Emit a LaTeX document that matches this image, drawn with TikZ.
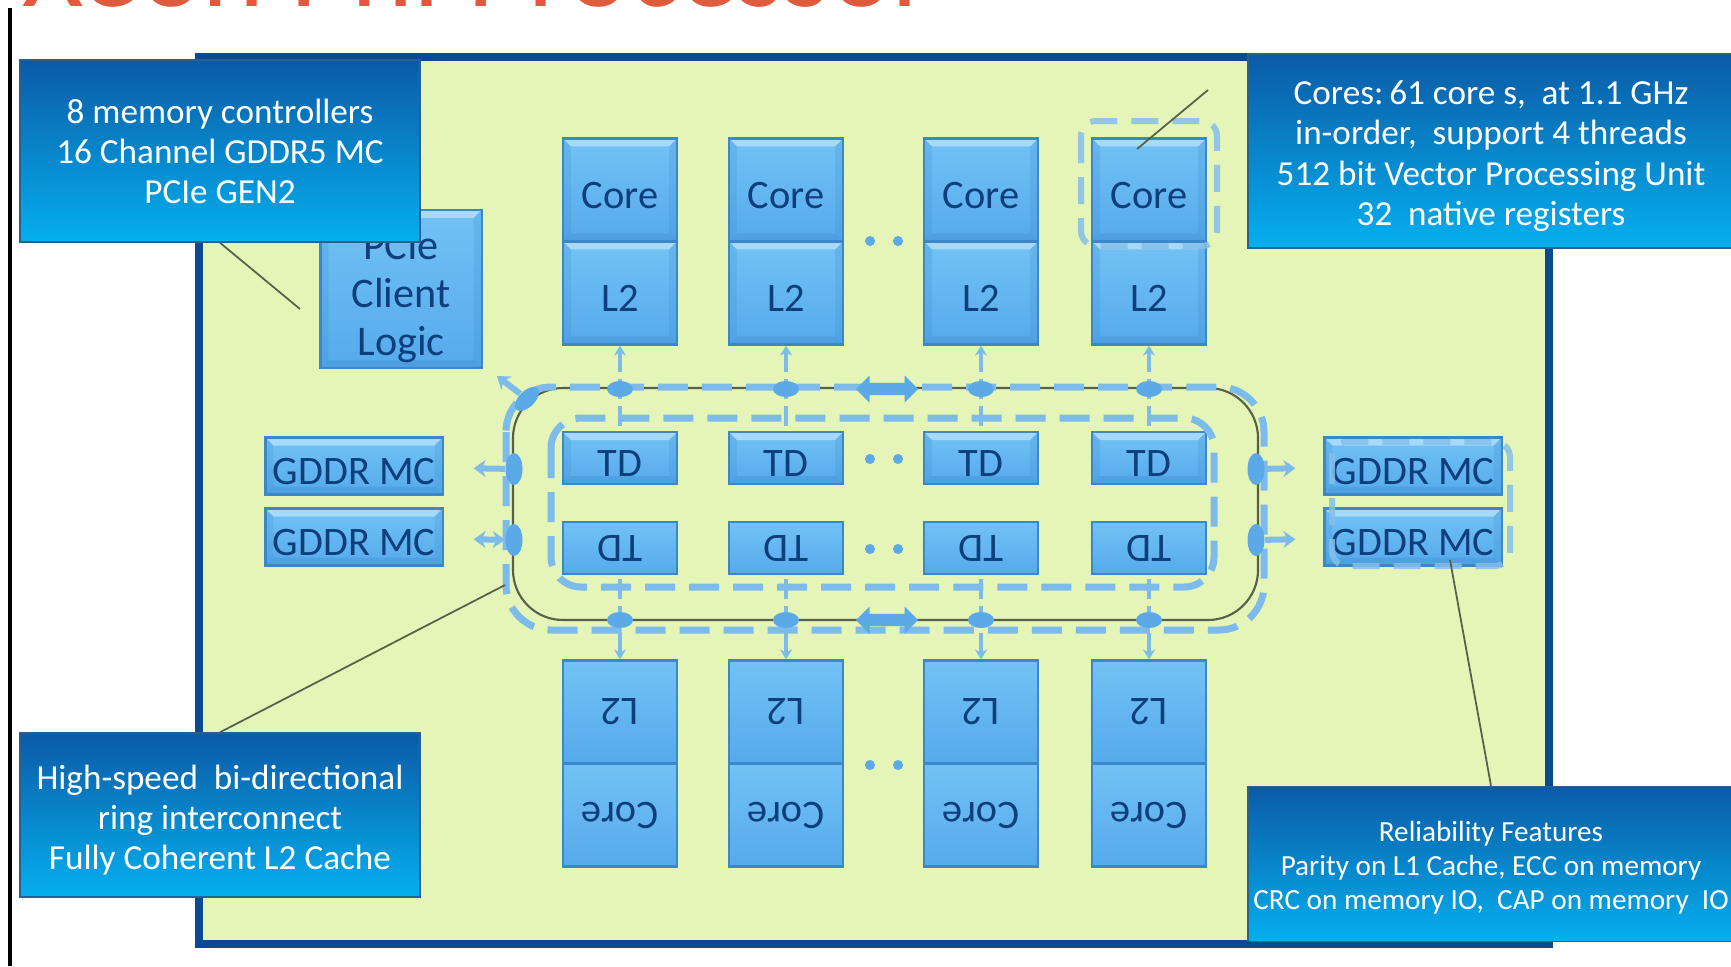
\documentclass[tikz,border=0pt]{standalone}
\usepackage{fontspec}
\setmainfont{Carlito}
\usepackage{tikz}
\usetikzlibrary{arrows.meta,shapes.geometric,shapes.arrows}
\definecolor{chipF}{HTML}{E5F4B7}
\definecolor{chipB}{HTML}{0B4A8E}
\definecolor{blkT}{HTML}{72C2F5}
\definecolor{blkB}{HTML}{55AAEB}
\definecolor{blkE}{HTML}{3B87C9}
\definecolor{blkX}{HTML}{0E3E7C}
\definecolor{ringC}{HTML}{7DBBEB}
\definecolor{ringS}{HTML}{5CA9E8}
\definecolor{ringH}{HTML}{85BFEA}
\definecolor{calT}{HTML}{0B5BA6}
\definecolor{calB}{HTML}{05AFEE}
\definecolor{calE}{HTML}{2A5F8F}
\definecolor{leadC}{HTML}{56604A}
\definecolor{ttlC}{HTML}{DE5B3E}
\newcommand\ppb{path picture bounding box}

\begin{document}
\begin{tikzpicture}[x=0.01cm,y=-0.01cm,
  bev/.style={path picture={
    \fill[white,opacity=0.4] (\ppb.north west) -- (\ppb.north east) -- ([shift={(-0.08cm,-0.08cm)}]\ppb.north east) -- ([shift={(0.08cm,-0.08cm)}]\ppb.north west) -- cycle;
    \fill[blkE,opacity=0.3] (\ppb.south west) -- (\ppb.south east) -- ([shift={(-0.08cm,0.08cm)}]\ppb.south east) -- ([shift={(0.08cm,0.08cm)}]\ppb.south west) -- cycle;
    \fill[blkE,opacity=0.2] (\ppb.north west) -- ([shift={(0.08cm,-0.08cm)}]\ppb.north west) -- ([shift={(0.08cm,0.08cm)}]\ppb.south west) -- (\ppb.south west) -- cycle;
    \fill[blkE,opacity=0.2] (\ppb.north east) -- ([shift={(-0.08cm,-0.08cm)}]\ppb.north east) -- ([shift={(-0.08cm,0.08cm)}]\ppb.south east) -- (\ppb.south east) -- cycle;}},
  blk/.style={draw=blkE,line width=0.6pt,top color=blkT,bottom color=blkB,bev,text=blkX,font=\fontsize{11.5}{13}\selectfont,minimum width=1.14cm,inner sep=0pt},
  lift/.style={text height=0.37cm,text depth=0pt},
  cell/.style={blk,minimum height=1.03cm},
  tdb/.style={blk,minimum height=0.52cm},
  mcb/.style={blk,lift,minimum width=1.77cm,minimum height=0.57cm},
  note/.style={top color=calT,bottom color=calB,draw=calE,line width=0.4pt,text=white,align=center,inner sep=0pt,font=\fontsize{10}{11.4}\selectfont},
  stop/.style={ellipse,fill=ringS,inner sep=0pt,minimum width=0.26cm,minimum height=0.16cm},
  vstop/.style={stop,minimum width=0.17cm,minimum height=0.32cm},
  ring/.style={ringC,line width=0.07cm,dash pattern=on 0.3cm off 0.14cm},
  hl/.style={ringH,opacity=0.85,line width=0.06cm,dash pattern=on 0.27cm off 0.14cm,rounded corners=0.15cm},
  link/.style={ringC,line width=0.045cm,dash pattern=on 0.2cm off 0.07cm,{Stealth[length=0.1cm,width=0.12cm]}-},
  port/.style={ringC,line width=0.06cm,-{Stealth[length=0.12cm,width=0.17cm]}},
  fat/.style={double arrow,fill=ringS,minimum height=0.62cm,minimum width=0.27cm,double arrow head extend=0.07cm,inner sep=0.05cm},
  lead/.style={leadC,line width=0.5pt},
  dot/.style={circle,fill=ringS,inner sep=0pt,minimum size=0.1cm}]
\useasboundingbox[fill=white] (0,0) rectangle (1731,966);
\node[anchor=base west,text=ttlC,inner sep=0pt,font=\fontsize{33.5}{34}\selectfont] (ttl) at (22,6) {Xeon Phi Processor};
\draw[line width=0.03cm] (10,8) -- (10,966);
\draw[draw=chipB,fill=chipF,line width=0.08cm] (199,57) rectangle (1549,944);

\node[blk,minimum width=1.61cm,minimum height=1.58cm,align=center,font=\fontsize{12}{13.7}\selectfont] (pcie) at (401,289) {\rule{0pt}{0.44cm}PCIe\\Client\\Logic};
\foreach \i/\x in {1/620,2/786,3/981,4/1149}{
  \node[cell,lift] (c\i) at (\x,190) {Core};
  \node[cell,lift] (l\i) at (\x,293) {L2};
  \node[tdb,lift] (t\i) at (\x,458) {TD};
  \node[tdb,rotate=180] (u\i) at (\x,548) {TD};
  \node[cell,rotate=180] (m\i) at (\x,712) {L2};
  \node[cell,rotate=180] (k\i) at (\x,815) {Core};
}
\node[mcb] (g1) at (354,466) {GDDR MC};
\node[mcb] (g2) at (354,537) {GDDR MC};
\node[mcb] (h1) at (1413,466) {GDDR MC};
\node[mcb] (h2) at (1413,537) {GDDR MC};
\foreach \y in {241,459,549,765}{
  \node[dot] (dl\y) at (870,\y) {};
  \node[dot] (dr\y) at (898,\y) {};
}

\draw[leadC,line width=0.6pt,rounded corners=0.5cm] (513,388) rectangle (1258,620);
\draw[ring,rounded corners=0.45cm] (506,387) rectangle (1264,630);
\draw[ring,rounded corners=0.3cm] (551,418) rectangle (1214,587);
\foreach \i/\x in {1/620,2/786,3/981,4/1149}{
  \draw[link] (l\i) -- (t\i);
  \draw[link] (m\i) -- (u\i);
  \node[stop] (a\i) at (\x,389) {};
  \node[stop] (b\i) at (\x,620) {};
}
\node[fat] (r1) at (887,389) {};
\node[fat] (r2) at (887,620) {};
\node[vstop] (e1) at (514,469) {};
\node[vstop] (e2) at (514,540) {};
\node[vstop] (f1) at (1256,469) {};
\node[vstop] (f2) at (1256,540) {};
\draw[port,shorten >=0.3cm] (e1) -- (g1);
\draw[port,{Stealth[length=0.12cm,width=0.17cm]}-{Stealth[length=0.12cm,width=0.17cm]},shorten >=0.3cm] (e2) -- (g2);
\draw[port,shorten >=0.28cm] (f1) -- (h1);
\draw[port,shorten >=0.28cm] (f2) -- (h2);
\node[stop,rotate=45,minimum width=0.3cm] (q) at (527,399) {};
\coordinate (qy) at (497,376);
\draw[port] (q) -- (qy);

\draw[hl] (1081,121) rectangle (1217,246);
\draw[hl] (1332,442) rectangle (1510,566);

\node[note,minimum width=4cm,minimum height=1.82cm] (mem) at (220,151) {8 memory controllers\\16 Channel GDDR5 MC\\PCIe GEN2};
\node[note,minimum width=4.86cm,minimum height=1.94cm] (cor) at (1491,151) {\rule{0pt}{0.34cm}Cores:\,61 core s,\ \ at 1.1 GHz\\in-order,\ \ support 4 threads\\512 bit Vector Processing Unit\\32\ \ native registers};
\node[note,minimum width=4cm,minimum height=1.64cm] (rng) at (220,815) {\rule{0pt}{0.345cm}High-speed\ \ bi-directional\\ring interconnect\\Fully Coherent L2 Cache};
\node[note,minimum width=4.86cm,minimum height=1.55cm,font=\fontsize{8.3}{9.6}\selectfont] (rel) at (1491,864) {\rule{0pt}{0.28cm}Reliability Features\\Parity on L1\ Cache, ECC on memory\\CRC on memory IO,\ \ CAP on memory\ \ IO};

\coordinate (p1) at (300,309);
\coordinate (p2a) at (1137,149);
\coordinate (p2b) at (1208,90);
\coordinate (p3) at (505,585);
\coordinate (p4) at (1450,560);
\draw[lead] (mem.south) -- (p1);
\draw[lead] (p2a) -- (p2b);
\draw[lead] (rng.north) -- (p3);
\draw[lead] (rel.north) -- (p4);
\end{tikzpicture}
\end{document}
